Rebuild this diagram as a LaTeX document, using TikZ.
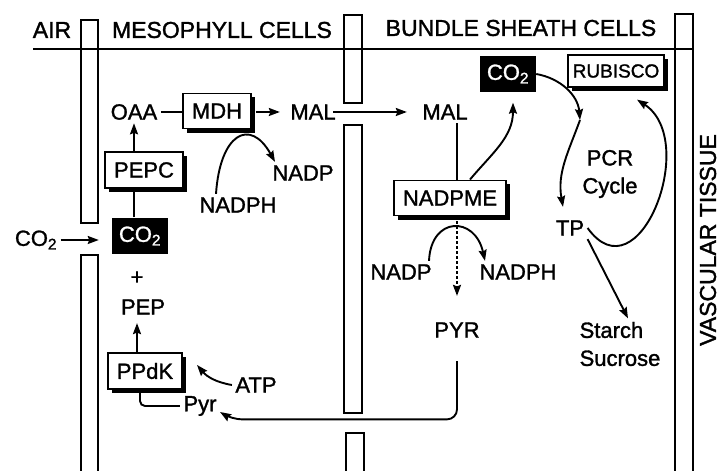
\documentclass[tikz,border=0pt]{standalone}
\usepackage{fontspec}
\setmainfont{Liberation Sans}
\newfontfamily\scanfont{Liberation Sans}[FakeBold=1.4]
\usetikzlibrary{arrows.meta,shadows}

\begin{document}
\begin{tikzpicture}[x = 1pt, y = 1pt,
  lbl/.style  = {font=\fontsize{22}{28}\scanfont, align=center},
  head/.style = {font=\fontsize{23}{28}\scanfont},
  enz/.style  = {lbl, draw, line width=1.8pt, fill=white, inner xsep=9pt, inner ysep=10pt,
                 drop shadow={shadow xshift=4pt, shadow yshift=-4pt, opacity=1, fill=black}},
  pool/.style = {lbl, fill=black, text=white, inner xsep=7pt, inner ysep=9pt},
  link/.style = {line width=1.9pt},
  arr/.style  = {link, -{Stealth[length=11pt, width=8pt, inset=1.5pt]}}]

\useasboundingbox (0, 0) rectangle (721, 471);
\fill[white] (0, 0) rectangle (721, 471);

% the cell walls, left to right
\foreach \xa/\ya/\xb/\yb in {81/451/98/248, 81/216/98/-5, 344/456/362/368,
                             344/346/362/58, 346/38/364/-5, 675/457/693/-5}
  \draw[line width=1.6pt, fill=white] (\xa, \ya) rectangle (\xb, \yb);

% headings
\node[head] (air)    at (52, 441)  {AIR};
\node[head] (meso)   at (222, 441) {MESOPHYLL CELLS};
\node[head] (bundle) at (521, 443) {BUNDLE SHEATH CELLS};
\node[head, rotate=90, inner sep=0pt] (vasc) at (708, 231) {VASCULAR TISSUE};
\draw[line width=2pt] (33, 422) -- (693, 422);

% mesophyll
\node[lbl]  (co2air) at (36, 231)  {CO\textsubscript{2}};
\node[pool] (co2m)   at (140, 235) {CO\textsubscript{2}};
\node[lbl]  (plus)   at (137, 193) {+};
\node[lbl]  (pep)    at (143, 164) {PEP};
\node[enz]  (ppdk)   at (145, 100) {PPdK};
\node[lbl]  (atp)    at (256, 86)  {ATP};
\node[lbl]  (pyrm)   at (200, 65)  {Pyr};
\node[enz]  (pepc)   at (144, 301) {PEPC};
\node[lbl]  (oaa)    at (134, 359) {OAA};
\node[enz]  (mdh)    at (217, 360) {MDH};
\node[lbl]  (malm)   at (313, 359) {MAL};
\node[lbl]  (nadp1)  at (303, 298) {NADP};
\node[lbl]  (nadph1) at (238, 266) {NADPH};

% bundle sheath
\node[lbl]  (malb)    at (445, 359) {MAL};
\node[enz]  (nadpme)  at (450, 273) {NADPME};
\node[lbl]  (nadp2)   at (401, 199) {NADP};
\node[lbl]  (nadph2)  at (518, 199) {NADPH};
\node[lbl]  (pyrb)    at (457, 141) {PYR};
\node[pool] (co2b)    at (508, 397) {CO\textsubscript{2}};
\node[enz, font=\fontsize{19}{23}\scanfont, inner xsep=5pt, inner ysep=9pt]
            (rubisco) at (616, 400) {RUBISCO};
\node[lbl]  (pcr)     at (610, 297) {PCR\\Cycle};
\node[lbl]  (tp)      at (570, 243) {TP};
\node[lbl, align=left] (starch) at (620, 127) {Starch\\Sucrose};
\coordinate (pcrin) at (580, 351);

% fixation in the mesophyll
\draw[arr, shorten >=13pt] (co2air.east) -- (co2air.east -| co2m.west);
\draw[link] (co2m.north -| oaa) -- (pepc.south -| oaa);
\draw[arr] (pepc.north -| oaa) -- (oaa.south);
\draw[arr, shorten >=5pt] (ppdk.north -| plus) -- (pep.south -| plus);
\draw[link] (oaa.east) -- (oaa.east -| mdh.west);
\draw[arr, shorten <=4pt] (mdh.east |- oaa.east) -- ([xshift=-7pt]malm.west);
\draw[arr] ([xshift=-22pt]nadph1.north) .. controls +(4, 60) and +(-25, 45)
  .. ([xshift=-28pt]nadp1.north);
\draw[arr] (atp.west) to[bend left=20] ([shift={(14, 6)}]ppdk.east);
\draw[link, rounded corners=5pt] ([xshift=-5pt]ppdk.south) |- (pyrm.west);

% decarboxylation and the PCR cycle
\draw[arr] ([xshift=-6pt]malm.east) -- ([xshift=-12pt]malm.east -| malb.west);
\draw[link] (malb.south -| pyrb) -- (nadpme.north -| pyrb);
\draw[arr, densely dashed] (nadpme.south -| pyrb) -- ([yshift=23pt]pyrb.north);
\draw[arr] ([xshift=28pt]nadp2.north) .. controls +(2, 45) and +(-10, 45)
  .. ([xshift=-33pt]nadph2.north);
\draw[arr] ([xshift=20pt]nadpme.north) to[out=50, in=-90] ([shift={(5, -10)}]co2b.south);
\draw[arr] (co2b.east) to[out=-10, in=95] (pcrin);
\draw[arr] (pcrin) to[out=-110, in=100] ([shift={(-7, 10)}]tp.north);
\draw[arr] (tp.east) .. controls +(51, -71) and +(63, -41)
  .. ([shift={(21, -12)}]rubisco.south);
\draw[arr] (tp.south east) -- ([xshift=8pt]starch.north);
\draw[arr, rounded corners=10pt] ([yshift=-20pt]pyrb.south)
  |- ([xshift=12pt]pyrm.south east) -- ([yshift=-6pt]pyrm.east);

\end{tikzpicture}
\end{document}
